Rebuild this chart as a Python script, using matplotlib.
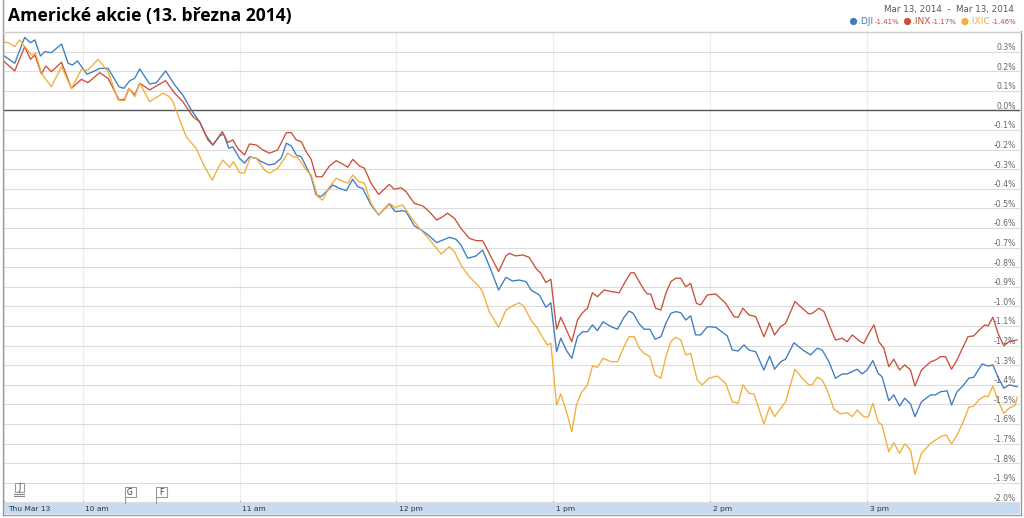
import matplotlib
matplotlib.use("Agg")
import matplotlib.pyplot as plt
from matplotlib.patches import Rectangle, Circle

# ---------------- data (minutes after 9:30, % change) ----------------
DJI = [(0, 0.278), (4.0, 0.241), (7.8, 0.373), (10.0, 0.346), (11.7, 0.360), (13.8, 0.278), (15.5, 0.300),
       (18.0, 0.295), (21.9, 0.339), (24.4, 0.241), (26.1, 0.232), (28.0, 0.253), (31.6, 0.185), (33.9, 0.198),
       (36.5, 0.215), (39.7, 0.215), (43.9, 0.121), (45.7, 0.113), (48.0, 0.152), (49.9, 0.164), (51.8, 0.212),
       (55.6, 0.135), (58.2, 0.142), (61.7, 0.202), (65.2, 0.130), (68.3, 0.079), (71.5, 0.003), (74.7, -0.057),
       (77.3, -0.130), (79.8, -0.176), (82.4, -0.130), (83.9, -0.120), (85.9, -0.193), (87.4, -0.185),
       (90.0, -0.244), (91.9, -0.269), (93.8, -0.236), (96.4, -0.244), (98.3, -0.261), (101.2, -0.278),
       (103.4, -0.273), (105.9, -0.244), (107.9, -0.167), (109.8, -0.181), (111.7, -0.227), (113.6, -0.236),
       (115.5, -0.287), (117.4, -0.338), (119.3, -0.431), (121.2, -0.440), (123.8, -0.406), (125.7, -0.380),
       (128.2, -0.397), (130.8, -0.409), (133.3, -0.351), (135.2, -0.389), (137.1, -0.397), (140.3, -0.482),
       (143.2, -0.533), (147.3, -0.477), (149.6, -0.516), (152.4, -0.511), (153.7, -0.516), (156.9, -0.589),
       (160.1, -0.615), (162.6, -0.640), (165.4, -0.674), (170.3, -0.647), (172.8, -0.657), (174.7, -0.686),
       (177.3, -0.754), (180.5, -0.742), (183.0, -0.712), (186.2, -0.814), (189.1, -0.916), (191.9, -0.851),
       (194.4, -0.870), (197.0, -0.865), (199.6, -0.873), (201.5, -0.916), (204.7, -0.941), (207.2, -1.004),
       (209.1, -0.981), (211.3, -1.231), (212.9, -1.162), (215.1, -1.225), (217.1, -1.264), (219.3, -1.154),
       (221.2, -1.129), (223.1, -1.129), (225.0, -1.094), (226.9, -1.123), (229.1, -1.078), (232.1, -1.103),
       (234.6, -1.116), (237.1, -1.055), (239.0, -1.023), (240.6, -1.035), (242.9, -1.089), (244.8, -1.116),
       (247.0, -1.116), (249.0, -1.167), (251.2, -1.154), (253.1, -1.086), (255.0, -1.035), (256.9, -1.026),
       (258.8, -1.032), (260.7, -1.069), (262.6, -1.048), (264.5, -1.145), (266.4, -1.145), (269.0, -1.103),
       (272.2, -1.106), (276.6, -1.150), (278.5, -1.222), (280.8, -1.227), (283.0, -1.196), (284.9, -1.222),
       (287.5, -1.231), (290.6, -1.324), (292.8, -1.253), (294.7, -1.320), (297.0, -1.282), (298.9, -1.269),
       (302.1, -1.185), (305.5, -1.222), (308.5, -1.247), (311.0, -1.213), (312.9, -1.222), (315.5, -1.282),
       (318.0, -1.366), (320.6, -1.344), (322.5, -1.344), (326.3, -1.320), (328.2, -1.344), (330.1, -1.324),
       (332.3, -1.276), (334.3, -1.341), (335.8, -1.358), (338.4, -1.481), (340.3, -1.451), (342.5, -1.508),
       (344.5, -1.468), (346.7, -1.497), (348.4, -1.562), (350.9, -1.486), (354.4, -1.451), (356.3, -1.451),
       (358.2, -1.435), (360.7, -1.430), (362.4, -1.503), (364.5, -1.435), (366.7, -1.406), (369.0, -1.366),
       (370.9, -1.361), (374.1, -1.293), (376.4, -1.304), (378.2, -1.298), (380.2, -1.361), (382.4, -1.417),
       (384.5, -1.400), (387.5, -1.409)]

INX = [(0, 0.249), (4.0, 0.202), (7.8, 0.326), (10.0, 0.261), (11.7, 0.283), (14.2, 0.186), (15.9, 0.227),
       (18.0, 0.198), (21.9, 0.246), (25.7, 0.113), (29.5, 0.159), (32.0, 0.142), (36.5, 0.193), (39.7, 0.164),
       (43.9, 0.054), (46.0, 0.057), (47.7, 0.113), (49.9, 0.079), (51.8, 0.139), (55.6, 0.105), (61.7, 0.152),
       (65.2, 0.088), (68.3, 0.045), (72.2, -0.032), (74.7, -0.057), (77.9, -0.150), (79.8, -0.176),
       (83.4, -0.108), (85.5, -0.164), (87.4, -0.150), (89.3, -0.193), (91.9, -0.227), (93.8, -0.171),
       (96.4, -0.176), (98.9, -0.201), (101.5, -0.218), (104.6, -0.201), (107.9, -0.113), (109.8, -0.113),
       (111.7, -0.150), (113.6, -0.159), (115.5, -0.210), (117.4, -0.249), (119.3, -0.338), (121.6, -0.338),
       (124.4, -0.283), (127.0, -0.256), (128.9, -0.269), (131.4, -0.290), (133.3, -0.249), (135.9, -0.283),
       (137.8, -0.295), (140.3, -0.371), (143.2, -0.428), (147.3, -0.377), (149.2, -0.402), (151.8, -0.394),
       (153.7, -0.414), (156.9, -0.474), (160.1, -0.487), (162.6, -0.516), (165.4, -0.559), (167.7, -0.542),
       (169.6, -0.524), (172.2, -0.550), (174.7, -0.601), (177.9, -0.652), (180.5, -0.664), (183.0, -0.664),
       (186.2, -0.746), (189.1, -0.822), (191.9, -0.742), (193.2, -0.729), (195.7, -0.742), (198.3, -0.737),
       (200.8, -0.749), (203.4, -0.805), (205.3, -0.831), (207.2, -0.878), (209.1, -0.861), (211.3, -1.116),
       (212.9, -1.055), (215.1, -1.120), (217.1, -1.180), (219.3, -1.069), (221.2, -1.032), (223.1, -1.009),
       (225.0, -0.930), (226.9, -0.950), (229.5, -0.916), (232.7, -0.925), (235.2, -0.930), (237.8, -0.868),
       (239.7, -0.828), (241.0, -0.828), (242.9, -0.873), (244.8, -0.916), (246.0, -0.936), (247.3, -0.936),
       (249.2, -1.009), (251.2, -1.018), (253.1, -0.933), (255.0, -0.873), (256.9, -0.856), (258.8, -0.856),
       (260.7, -0.899), (262.6, -0.882), (264.8, -0.984), (266.4, -0.992), (269.0, -0.941), (272.2, -0.936),
       (276.0, -0.984), (279.2, -1.052), (280.8, -1.055), (282.6, -1.009), (284.9, -1.043), (287.5, -1.052),
       (290.6, -1.154), (292.8, -1.083), (294.7, -1.145), (297.0, -1.103), (298.9, -1.086), (302.5, -0.975),
       (305.3, -1.009), (307.8, -1.038), (309.1, -1.035), (311.7, -1.009), (313.6, -1.026), (316.1, -1.111),
       (318.0, -1.171), (320.6, -1.162), (322.5, -1.180), (324.4, -1.145), (327.6, -1.180), (328.8, -1.188),
       (330.8, -1.137), (332.7, -1.094), (334.6, -1.180), (336.5, -1.213), (338.4, -1.307), (340.3, -1.269),
       (342.5, -1.324), (344.5, -1.298), (346.7, -1.324), (348.4, -1.406), (350.9, -1.324), (354.4, -1.282),
       (356.3, -1.273), (358.2, -1.256), (360.1, -1.256), (362.4, -1.320), (364.5, -1.273), (366.4, -1.218),
       (368.7, -1.154), (370.9, -1.150), (372.8, -1.123), (375.1, -1.094), (376.4, -1.099), (378.2, -1.055),
       (380.2, -1.137), (382.4, -1.201), (384.3, -1.180), (387.4, -1.171)]

IXIC = [(0, 0.348), (1.5, 0.346), (4.0, 0.326), (5.9, 0.360), (7.8, 0.326), (10.4, 0.283), (12.0, 0.292),
        (14.2, 0.190), (18.0, 0.121), (21.9, 0.224), (25.7, 0.113), (29.5, 0.210), (32.0, 0.207), (35.9, 0.261),
        (39.7, 0.198), (43.5, 0.054), (46.0, 0.050), (47.7, 0.113), (49.9, 0.070), (51.8, 0.139), (55.6, 0.045),
        (60.7, 0.088), (63.2, 0.070), (64.5, 0.045), (67.1, -0.048), (69.6, -0.134), (73.4, -0.193),
        (76.6, -0.287), (79.6, -0.355), (81.7, -0.295), (83.6, -0.253), (86.2, -0.290), (87.7, -0.261),
        (90.0, -0.317), (91.9, -0.320), (94.1, -0.239), (96.4, -0.244), (99.6, -0.304), (101.5, -0.320),
        (104.6, -0.295), (108.5, -0.218), (110.4, -0.236), (112.3, -0.239), (115.5, -0.304), (117.4, -0.329),
        (119.9, -0.440), (121.8, -0.457), (124.4, -0.389), (127.0, -0.346), (128.9, -0.358), (131.4, -0.371),
        (133.3, -0.329), (135.6, -0.363), (137.8, -0.371), (140.3, -0.474), (143.2, -0.533), (147.3, -0.474),
        (149.6, -0.494), (152.4, -0.482), (155.0, -0.533), (158.8, -0.601), (162.6, -0.657), (167.1, -0.732),
        (170.3, -0.695), (172.2, -0.720), (174.7, -0.788), (177.9, -0.848), (181.7, -0.899), (183.0, -0.925),
        (185.5, -1.026), (189.1, -1.106), (191.9, -1.018), (194.4, -0.997), (197.0, -0.981), (198.9, -1.001),
        (201.5, -1.069), (204.0, -1.111), (205.9, -1.157), (207.8, -1.196), (209.1, -1.188), (211.3, -1.503),
        (212.9, -1.446), (215.1, -1.537), (217.1, -1.639), (218.9, -1.503), (220.6, -1.443), (223.1, -1.400),
        (225.0, -1.304), (226.9, -1.310), (229.1, -1.264), (232.1, -1.282), (234.6, -1.282), (237.1, -1.205),
        (239.0, -1.154), (241.0, -1.154), (242.9, -1.213), (244.8, -1.239), (247.0, -1.256), (249.0, -1.349),
        (251.2, -1.366), (253.1, -1.256), (255.0, -1.180), (256.9, -1.157), (258.8, -1.171), (260.7, -1.247),
        (262.6, -1.239), (265.1, -1.375), (267.0, -1.400), (269.6, -1.366), (272.8, -1.355), (276.0, -1.392),
        (278.5, -1.486), (280.8, -1.494), (282.6, -1.400), (284.9, -1.443), (286.8, -1.446), (290.6, -1.599),
        (292.8, -1.511), (294.7, -1.562), (298.9, -1.486), (302.5, -1.320), (305.3, -1.366), (307.8, -1.400),
        (309.1, -1.400), (311.0, -1.361), (312.9, -1.375), (314.8, -1.426), (317.4, -1.524), (319.9, -1.548),
        (322.5, -1.542), (324.4, -1.562), (326.3, -1.528), (328.8, -1.562), (330.5, -1.565), (332.3, -1.494),
        (334.3, -1.588), (335.8, -1.605), (338.4, -1.741), (340.3, -1.695), (342.5, -1.749), (344.5, -1.701),
        (346.7, -1.732), (348.4, -1.855), (350.9, -1.749), (354.4, -1.698), (356.3, -1.681), (358.2, -1.664),
        (360.3, -1.656), (362.4, -1.701), (364.5, -1.656), (366.7, -1.593), (369.0, -1.514), (370.9, -1.508),
        (372.8, -1.477), (375.1, -1.457), (376.4, -1.460), (378.2, -1.406), (380.2, -1.481), (382.4, -1.545),
        (384.5, -1.519), (386.8, -1.503), (387.5, -1.462)]

SERIES = [".DJI", ".INX", ".IXIC"]
SERIES_DATA = [DJI, INX, IXIC]
SERIES_COLORS = ["#3d7cc0", "#c9503a", "#f2ae3a"]
LEGEND_CHANGE = ["-1.41%", "-1.17%", "-1.46%"]

Y_TICKS = [0.3, 0.2, 0.1, 0.0, -0.1, -0.2, -0.3, -0.4, -0.5, -0.6, -0.7, -0.8, -0.9, -1.0,
           -1.1, -1.2, -1.3, -1.4, -1.5, -1.6, -1.7, -1.8, -1.9, -2.0]
X_TICKS = [0, 30, 90, 150, 210, 270, 330]
X_LABELS = ["Thu Mar 13", "10 am", "11 am", "12 pm", "1 pm", "2 pm", "3 pm"]
TITLE = "Americké akcie (13. března 2014)"
DATE_RANGE = "Mar 13, 2014  -  Mar 13, 2014"
FLAGS = [("J", 3), ("G", 46), ("F", 58)]   # news flags (letter, minute)

# ---------------- layout ----------------
W, H = 1024, 518
fig = plt.figure(figsize=(W / 100, H / 100), dpi=100)
fig.patch.set_facecolor("white")

L, R, T, B = 4.3, 1019.5, 31.0, 503.0
ax = fig.add_axes([L / W, (H - B) / H, (R - L) / W, (B - T) / H], zorder=1)
ax.set_xlim(0, 388.4)
ax.set_ylim(-2.0026, 0.4056)
for s in ax.spines.values():
    s.set_visible(False)
ax.set_yticks(Y_TICKS)
ax.set_yticklabels([])
ax.tick_params(axis="y", length=0)
ax.set_xticks(X_TICKS)
ax.set_xticklabels([])
ax.tick_params(axis="x", direction="in", length=1.8, width=0.8, color="#555555", pad=0)
ax.grid(axis="y", color="#dcdcdc", lw=0.8)
ax.grid(axis="x", color="#ececec", lw=0.8)
ax.axhline(0, color="#555555", lw=1.0, zorder=2)

for data, col in zip(SERIES_DATA, SERIES_COLORS):
    t, v = zip(*data)
    ax.plot(t, v, color=col, lw=0.95, zorder=3, solid_joinstyle="round")

for yv in Y_TICKS:
    ax.annotate(f"{yv:.1f}%", xy=(0.9965, yv), xycoords=("axes fraction", "data"),
                xytext=(0, 1.2), textcoords="offset points",
                ha="right", va="baseline", fontsize=5.6, color="#666666", zorder=4)

# time band
band = fig.add_axes([L / W, (H - 514) / H, (R - L) / W, 11 / H], sharex=ax, zorder=2)
band.set_facecolor("#c7dcf2")
band.set_ylim(0, 1)
band.set_yticks([])
band.tick_params(axis="x", length=0, labelbottom=False)
for s in band.spines.values():
    s.set_visible(False)
for xt, lab in zip(X_TICKS, X_LABELS):
    band.annotate(lab, xy=(xt, 0.45), xytext=(2.0 if xt > 0 else 3.0, 0), textcoords="offset points",
                  ha="left", va="center", fontsize=5.4, color="#333333")

# overlay for frame and decorations (pixel coordinates)
ov = fig.add_axes([0, 0, 1, 1], zorder=10)
ov.set_xlim(0, W)
ov.set_ylim(H, 0)
ov.axis("off")
ov.patch.set_alpha(0)
ov.plot([2.5, 2.5], [0, 515], color="#9a9a9a", lw=1.0)
ov.plot([1020.5, 1020.5], [31, 515], color="#9a9a9a", lw=1.0)
ov.plot([2.5, 1020.5], [31.5, 31.5], color="#cfcfcf", lw=1.0)
ov.plot([2.5, 1020.5], [514.5, 514.5], color="#9a9a9a", lw=1.0)

# news flags
for letter, minute in FLAGS:
    px = L + minute * (R - L) / 388.4
    if letter == "J":
        ov.add_patch(Rectangle((px + 2.5, 483), 9, 9, fc="white", ec="#999999", lw=0.8))
        ov.text(px + 7, 487.8, letter, ha="center", va="center", fontsize=5.5, color="#333333")
        ov.plot([px + 2, px + 12], [494, 494], color="#888888", lw=0.8)
        ov.plot([px + 2, px + 12], [496, 496], color="#888888", lw=0.8)
    else:
        ov.add_patch(Rectangle((px, 487), 11, 10, fc="white", ec="#999999", lw=0.8))
        ov.text(px + 5.5, 492.2, letter, ha="center", va="center", fontsize=5.5, color="#333333")
        ov.plot([px, px], [497, 503], color="#999999", lw=0.8)

# title
fig.text(8 / W, 1 - 16.5 / H, TITLE, ha="left", va="center", fontsize=12.6,
         fontweight="bold", family=["Open Sans", "DejaVu Sans"], color="black")

# top right info
fig.text(1014 / W, 1 - 9.5 / H, DATE_RANGE, ha="right", va="center",
         fontsize=6.3, color="#555555")

# legend, laid out right to left from x = 1016 px
fig.canvas.draw()
rend = fig.canvas.get_renderer()
xr = 1016.0
for name, ch, col in reversed(list(zip(SERIES, LEGEND_CHANGE, SERIES_COLORS))):
    tc = ov.text(xr, 22.4, ch, ha="right", va="center", fontsize=5.0, color="#cc4444")
    wc = tc.get_window_extent(renderer=rend).width
    xn = xr - wc - 1.5
    tn = ov.text(xn, 22, name, ha="right", va="center", fontsize=6.6, color=col)
    wn = tn.get_window_extent(renderer=rend).width
    xd = xn - wn - 4.0
    ov.add_patch(Circle((xd, 21.5), 3.6, fc=col, ec="none"))
    xr = xd - 3.6 - 5.0

fig.savefig("out.png", dpi=100, facecolor="white")
